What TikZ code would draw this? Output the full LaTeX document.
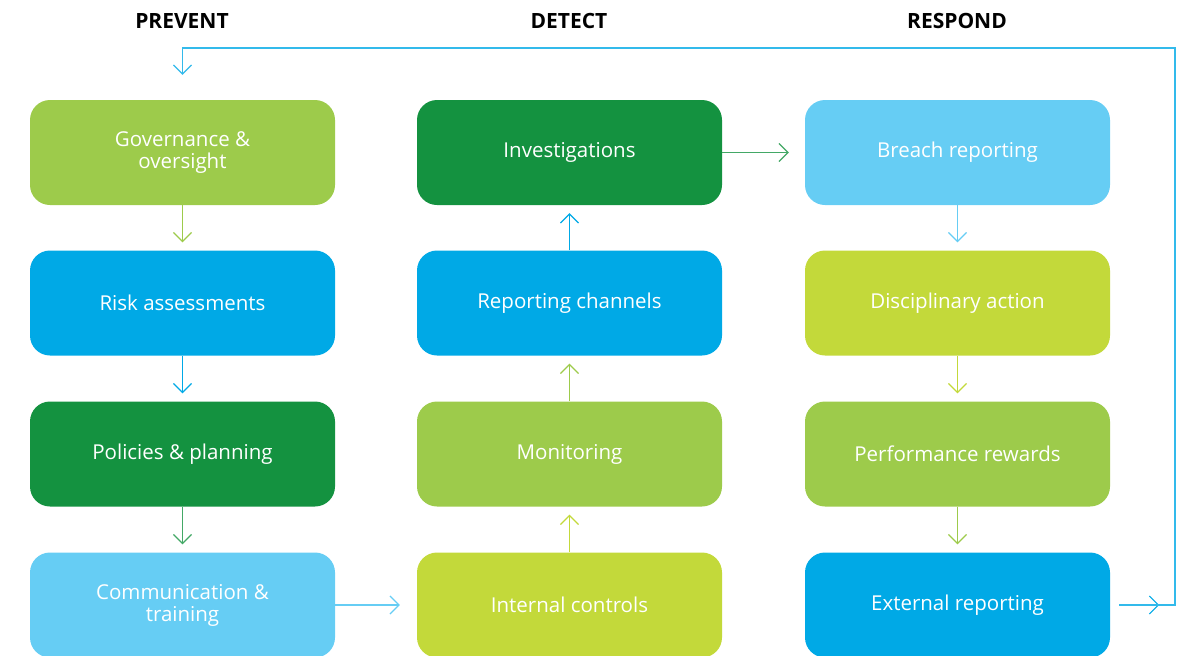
\documentclass[tikz,border=0pt]{standalone}
\usepackage{fontspec}
\setmainfont{Open Sans}
\usetikzlibrary{arrows.meta}
\definecolor{lgreen}{HTML}{9DCB4B}
\definecolor{mblue}{HTML}{00A9E6}
\definecolor{dgreen}{HTML}{149240}
\definecolor{lblue}{HTML}{66CDF4}
\definecolor{lime}{HTML}{C3D93A}
\begin{document}
\begin{tikzpicture}[x=1pt,y=-1pt,
  box/.style={rounded corners=20pt,minimum width=305pt,minimum height=105pt,
    align=center,text=white,font=\fontsize{20.5}{22}\selectfont,inner sep=0pt},
  head/.style={font=\fontsize{21}{23}\selectfont\bfseries},
  flow/.style={line width=1.2pt,-{Straight Barb[length=9pt,width=18pt,line width=1.2pt]}}]
\useasboundingbox (0,0) rectangle (1179,656);

\node[head] (hprev) at (182,21) {PREVENT};
\node[head] (hdet) at (569,21) {DETECT};
\node[head] (hresp) at (957,21) {RESPOND};

\node[box,fill=lgreen] (gov) at (182.5,152.5) {Governance \&\\oversight};
\node[box,fill=mblue] (risk) at (182.5,303) {Risk assessments};
\node[box,fill=dgreen] (pol) at (182.5,454) {Policies \& planning};
\node[box,fill=lblue] (comm) at (182.5,605) {Communication \&\\training};

\node[box,fill=lime] (intc) at (569.5,605) {Internal controls};
\node[box,fill=lgreen] (mon) at (569.5,454) {Monitoring};
\node[box,fill=mblue] (repc) at (569.5,303) {Reporting channels};
\node[box,fill=dgreen] (inv) at (569.5,152.5) {Investigations};

\node[box,fill=lblue] (brea) at (957.5,152.5) {Breach reporting};
\node[box,fill=lime] (disc) at (957.5,303) {Disciplinary action};
\node[box,fill=lgreen] (perf) at (957.5,454) {Performance rewards};
\node[box,fill=mblue] (ext) at (957.5,605) {External reporting};

\draw[flow,lgreen,shorten >=8pt] (gov) -- (risk);
\draw[flow,mblue,shorten >=8pt] (risk) -- (pol);
\draw[flow,dgreen!80,shorten >=8pt] (pol) -- (comm);
\draw[flow,lblue,shorten >=17pt] (comm) -- (intc);
\draw[flow,lime,shorten >=8pt] (intc) -- (mon);
\draw[flow,lgreen,shorten >=8pt] (mon) -- (repc);
\draw[flow,mblue,shorten >=8pt] (repc) -- (inv);
\draw[flow,dgreen!80,shorten >=16pt] (inv) -- (brea);
\draw[flow,lblue,shorten >=8pt] (brea) -- (disc);
\draw[flow,lime,shorten >=8pt] (disc) -- (perf);
\draw[flow,lgreen,shorten >=8pt] (perf) -- (ext);

\coordinate (loopa) at (1175,48);
\draw[flow,mblue] ([xshift=9pt]ext.east) -- ([xshift=49pt]ext.east);
\draw[flow,mblue!80] ([xshift=9pt]ext.east) -| (loopa) -| ([yshift=25pt]gov.north);
\end{tikzpicture}
\end{document}
